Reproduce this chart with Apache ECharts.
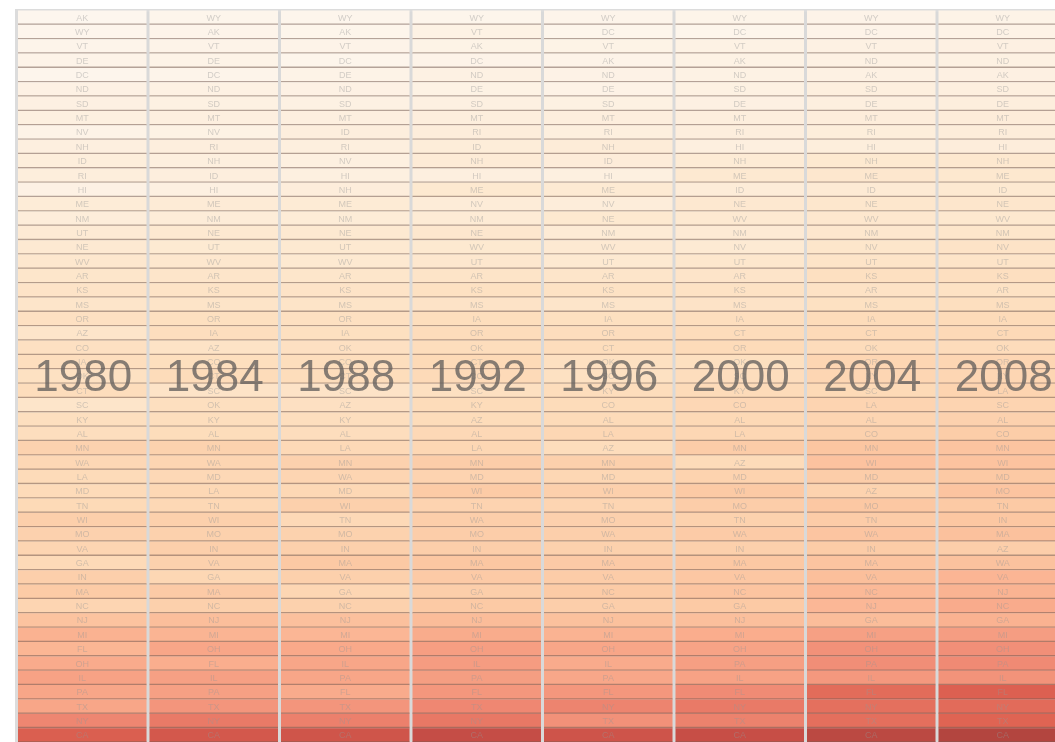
<!DOCTYPE html>
<html>
<head>
<meta charset="utf-8">
<script src="https://cdn.jsdelivr.net/npm/echarts@6/dist/echarts.min.js"></script>
<style>
  html, body { margin: 0; padding: 0; background: #fff; }
  #chart { width: 1055px; height: 742px; }
</style>
</head>
<body>
<div id="chart"></div>
<script>
(function () {

    // election years (columns)
    var years = ['1980', '1984', '1988', '1992', '1996', '2000', '2004', '2008'];

    // states per column, top (smallest) to bottom (largest)
    var states1980 = ['AK','WY','VT','DE','DC','ND','SD','MT','NV','NH','ID','RI','HI','ME','NM','UT','NE','WV','AR','KS','MS','OR','AZ','CO','IA','OK','CT','SC','KY','AL','MN','WA','LA','MD','TN','WI','MO','VA','GA','IN','MA','NC','NJ','MI','FL','OH','IL','PA','TX','NY','CA'];
    var states1984 = ['WY','AK','VT','DE','DC','ND','SD','MT','NV','RI','NH','ID','HI','ME','NM','NE','UT','WV','AR','KS','MS','OR','IA','AZ','CO','CT','SC','OK','KY','AL','MN','WA','MD','LA','TN','WI','MO','IN','VA','GA','MA','NC','NJ','MI','OH','FL','IL','PA','TX','NY','CA'];
    var states1988 = ['WY','AK','VT','DC','DE','ND','SD','MT','ID','RI','NV','HI','NH','ME','NM','NE','UT','WV','AR','KS','MS','OR','IA','OK','CO','CT','SC','AZ','KY','AL','LA','MN','WA','MD','WI','TN','MO','IN','MA','VA','GA','NC','NJ','MI','OH','IL','PA','FL','TX','NY','CA'];
    var states1992 = ['WY','VT','AK','DC','ND','DE','SD','MT','RI','ID','NH','HI','ME','NV','NM','NE','WV','UT','AR','KS','MS','IA','OR','OK','CT','CO','SC','KY','AZ','AL','LA','MN','MD','WI','TN','WA','MO','IN','MA','VA','GA','NC','NJ','MI','OH','IL','PA','FL','TX','NY','CA'];
    var states1996 = ['WY','DC','VT','AK','ND','DE','SD','MT','RI','NH','ID','HI','ME','NV','NE','NM','WV','UT','AR','KS','MS','IA','OR','CT','OK','SC','KY','CO','AL','LA','AZ','MN','MD','WI','TN','MO','WA','IN','MA','VA','NC','GA','NJ','MI','OH','IL','PA','FL','NY','TX','CA'];
    var states2000 = ['WY','DC','VT','AK','ND','SD','DE','MT','RI','HI','NH','ME','ID','NE','WV','NM','NV','UT','AR','KS','MS','IA','CT','OR','OK','SC','KY','CO','AL','LA','MN','AZ','MD','WI','MO','TN','WA','IN','MA','VA','NC','GA','NJ','MI','OH','PA','IL','FL','NY','TX','CA'];
    var states2004 = ['WY','DC','VT','ND','AK','SD','DE','MT','RI','HI','NH','ME','ID','NE','WV','NM','NV','UT','KS','AR','MS','IA','CT','OK','OR','KY','SC','LA','AL','CO','MN','WI','MD','AZ','MO','TN','WA','IN','MA','VA','NC','NJ','GA','MI','OH','PA','IL','FL','NY','TX','CA'];
    var states2008 = ['WY','DC','VT','ND','AK','SD','DE','MT','RI','HI','NH','ME','ID','NE','WV','NM','NV','UT','KS','AR','MS','IA','CT','OK','OR','KY','LA','SC','AL','CO','MN','WI','MD','MO','TN','IN','MA','AZ','WA','VA','NJ','NC','GA','MI','OH','PA','IL','FL','NY','TX','CA'];

    // votes cast (millions), same order as the state lists
    var votes1980 = [0.16,0.18,0.21,0.24,0.18,0.30,0.33,0.36,0.25,0.38,0.44,0.42,0.30,0.52,0.46,0.60,0.64,0.74,0.84,0.98,0.89,1.18,0.87,1.18,1.32,1.15,1.41,0.89,1.29,1.34,2.05,1.74,1.55,1.54,1.62,2.27,2.10,1.87,1.60,2.24,2.52,1.86,2.98,3.91,3.69,4.28,4.75,4.56,4.54,6.20,8.59];
    var votes1984 = [0.19,0.21,0.23,0.25,0.21,0.31,0.32,0.38,0.29,0.41,0.39,0.41,0.34,0.55,0.51,0.65,0.63,0.74,0.88,1.02,0.94,1.23,1.32,1.03,1.30,1.47,0.97,1.26,1.37,1.44,2.08,1.88,1.68,1.71,1.71,2.21,2.12,2.23,2.15,1.78,2.56,2.18,3.22,3.80,4.55,4.18,4.82,4.84,5.40,6.81,9.51];
    var votes1988 = [0.18,0.20,0.24,0.19,0.25,0.30,0.31,0.37,0.41,0.40,0.35,0.35,0.45,0.56,0.52,0.66,0.65,0.65,0.83,0.99,0.93,1.20,1.23,1.17,1.37,1.44,0.99,1.17,1.32,1.38,1.63,2.10,1.87,1.71,2.19,1.64,2.09,2.17,2.63,2.19,1.81,2.13,3.10,3.67,4.39,4.56,4.54,4.30,5.43,6.49,9.89];
    var votes1992 = [0.20,0.29,0.26,0.23,0.31,0.29,0.34,0.41,0.45,0.48,0.54,0.37,0.68,0.51,0.57,0.74,0.68,0.74,0.95,1.16,0.98,1.35,1.46,1.39,1.62,1.57,1.20,1.49,1.49,1.69,1.79,2.35,1.99,2.53,1.98,2.29,2.39,2.31,2.77,2.56,2.32,2.61,3.34,4.27,4.94,5.05,4.96,5.31,6.15,6.93,11.13];
    var votes1996 = [0.21,0.19,0.26,0.24,0.27,0.27,0.32,0.41,0.39,0.50,0.49,0.36,0.61,0.46,0.68,0.56,0.64,0.67,0.88,1.07,0.89,1.23,1.38,1.39,1.21,1.15,1.39,1.51,1.53,1.78,1.40,2.19,1.78,2.20,1.89,2.16,2.25,2.14,2.56,2.42,2.52,2.30,3.08,3.85,4.53,4.31,4.51,5.30,6.32,5.61,10.02];
    var votes2000 = [0.22,0.20,0.29,0.29,0.29,0.32,0.33,0.41,0.41,0.37,0.57,0.65,0.50,0.70,0.65,0.60,0.61,0.77,0.92,1.07,0.99,1.32,1.46,1.53,1.23,1.38,1.54,1.74,1.67,1.77,2.44,1.53,2.02,2.60,2.36,2.08,2.49,2.18,2.70,2.74,2.91,2.60,3.19,4.23,4.70,4.91,4.74,5.96,6.82,6.41,10.97];
    var votes2004 = [0.24,0.23,0.31,0.31,0.31,0.39,0.38,0.45,0.44,0.43,0.68,0.74,0.60,0.78,0.76,0.76,0.83,0.93,1.19,1.05,1.15,1.51,1.58,1.46,1.84,1.80,1.62,1.94,1.88,2.13,2.83,2.99,2.39,2.01,2.73,2.44,2.86,2.47,2.91,3.20,3.50,3.61,3.30,4.84,5.63,5.77,5.27,7.61,7.39,7.41,12.42];
    var votes2008 = [0.25,0.27,0.33,0.32,0.33,0.38,0.41,0.49,0.47,0.45,0.71,0.73,0.66,0.80,0.71,0.83,0.97,0.95,1.24,1.09,1.29,1.54,1.65,1.46,1.83,1.83,1.96,1.92,2.10,2.40,2.91,2.98,2.63,2.93,2.60,2.75,3.08,2.29,3.04,3.72,3.87,4.31,3.92,5.00,5.72,6.01,5.52,8.39,7.64,8.08,13.56];

    var stateCols = [states1980, states1984, states1988, states1992, states1996, states2000, states2004, states2008];
    var voteCols  = [votes1980, votes1984, votes1988, votes1992, votes1996, votes2000, votes2004, votes2008];

    var rows = states1980.map(function (s, i) { return String(i); });
    var labelRow = 25;

    var cells = [];
    var cellNames = [];
    stateCols.forEach(function (col, x) {
        col.forEach(function (st, y) {
            cells.push([x, y, Math.sqrt(voteCols[x][y])]);
            cellNames.push(st);
        });
    });

    var chart = echarts.init(document.getElementById('chart'), null, { renderer: 'canvas' });

    var option = {
        animation: false,
        backgroundColor: '#ffffff',
        grid: {
            left: 16.5, top: 10.5, width: 1052, height: 732,
            outerBoundsMode: 'none',
            show: true,
            backgroundColor: '#d9d9d9',
            borderColor: '#dcdcdc',
            borderWidth: 3
        },
        xAxis: { type: 'category', data: years, show: false },
        yAxis: { type: 'category', data: rows, inverse: true, show: false },
        visualMap: {
            show: false,
            type: 'continuous',
            dimension: 2,
            seriesIndex: 0,
            min: 0.4,
            max: 3.68,
            inRange: {
                color: ['#fdf6ee', '#fde9d1', '#fddcba', '#fcc9a4', '#faae8e', '#f08a74', '#de6252', '#c94f47', '#b3453f']
            }
        },
        series: [
            {
                type: 'custom',
                data: cells,
                renderItem: function (params, api) {
                    var c = api.coord([api.value(0), api.value(1)]);
                    var w = api.size([1, 0])[0];
                    var h = api.size([0, 1])[1];
                    var x0 = c[0] - w / 2 + 1.5;
                    var y0 = c[1] - h / 2;
                    return {
                        type: 'group',
                        children: [
                            {
                                type: 'rect',
                                shape: { x: x0, y: y0, width: w - 3, height: h },
                                style: { fill: api.visual('color') }
                            },
                            {
                                type: 'line',
                                shape: { x1: x0, y1: y0 + h - 0.6, x2: x0 + w - 3, y2: y0 + h - 0.6 },
                                style: { stroke: 'rgba(120,95,85,0.55)', lineWidth: 1.4 }
                            },
                            {
                                type: 'text',
                                style: {
                                    text: cellNames[params.dataIndex],
                                    x: c[0], y: c[1] + 0.5,
                                    align: 'center', verticalAlign: 'middle',
                                    fill: 'rgba(150,150,150,0.42)',
                                    font: '9px "Liberation Sans"'
                                }
                            }
                        ]
                    };
                }
            },
            {
                type: 'custom',
                z: 5,
                data: years.map(function (y, i) { return [i, labelRow]; }),
                renderItem: function (params, api) {
                    var c = api.coord([api.value(0), api.value(1)]);
                    return {
                        type: 'text',
                        style: {
                            text: years[params.dataIndex],
                            x: c[0] + 1, y: c[1] + 2,
                            align: 'center', verticalAlign: 'middle',
                            fill: 'rgba(100,96,94,0.78)',
                            font: '44px "Liberation Sans"'
                        }
                    };
                }
            }
        ]
    };

    chart.setOption(option);

})();
</script>
</body>
</html>
